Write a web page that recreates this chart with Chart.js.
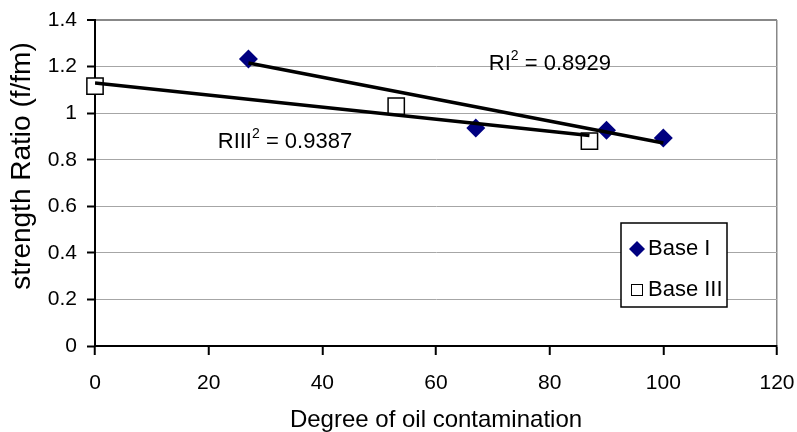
<!DOCTYPE html>
<html>
<head>
<meta charset="utf-8">
<script src="https://cdn.jsdelivr.net/npm/chart.js@4.4.1/dist/chart.umd.min.js"></script>
<style>
  html, body { margin: 0; padding: 0; background: #fff; }
  #wrap { width: 797px; height: 432px; }
</style>
</head>
<body>
<div id="wrap"><canvas id="chart" width="797" height="432"></canvas></div>
<script>
// Data
const baseIx = [27, 67, 90, 100];
const baseIy = [1.232, 0.936, 0.927, 0.893];
const baseIIIx = [0, 53, 87];
const baseIIIy = [1.116, 1.03, 0.88];

// Trend line end points (as drawn in the picture)
const trendIx = [27, 100];
const trendIy = [1.215, 0.872];
const trendIIIx = [0, 87];
const trendIIIy = [1.129, 0.904];

const xTicks = [0, 20, 40, 60, 80, 100, 120];
const yTickLabels = ['0', '0.2', '0.4', '0.6', '0.8', '1', '1.2', '1.4'];

const FONT = "'Liberation Sans', Arial, sans-serif";
const NAVY = '#000080';

function pts(xs, ys) {
    return xs.map((x, i) => ({ x: x, y: ys[i] }));
}

// Draws the y title, the R² labels and the boxed legend inside the plot
const extras = {
    id: 'extras',
    afterDraw(chart) {
        const ctx = chart.ctx;
        const xs = chart.scales.x, ys = chart.scales.y;
        const area = chart.chartArea;

        // y axis title (sits a bit above the plot centre in the original)
        ctx.save();
        ctx.translate(22, 166);
        ctx.rotate(-Math.PI / 2);
        ctx.fillStyle = '#000';
        ctx.font = '28px ' + FONT;
        ctx.textAlign = 'center';
        ctx.textBaseline = 'middle';
        ctx.fillText('strength Ratio (f/fm)', 0, 0);
        ctx.restore();

        function rsq(prefix, value, x, y) {
            ctx.save();
            ctx.fillStyle = '#000';
            ctx.textBaseline = 'middle';
            ctx.textAlign = 'left';
            ctx.font = '22px ' + FONT;
            ctx.fillText(prefix, x, y);
            let w = ctx.measureText(prefix).width;
            ctx.font = '14px ' + FONT;
            ctx.fillText('2', x + w, y - 8);
            w += ctx.measureText('2').width;
            ctx.font = '22px ' + FONT;
            ctx.fillText(' = ' + value, x + w, y);
            ctx.restore();
        }
        rsq('RI', '0.8929', xs.getPixelForValue(69.3), ys.getPixelForValue(1.21));
        rsq('RIII', '0.9387', xs.getPixelForValue(21.6), ys.getPixelForValue(0.876));

        // legend box
        const bx = area.right - 156, by = 223, bw = 106, bh = 84;
        ctx.save();
        ctx.fillStyle = '#fff';
        ctx.fillRect(bx, by, bw, bh);
        ctx.strokeStyle = '#000';
        ctx.lineWidth = 1.5;
        ctx.strokeRect(bx, by, bw, bh);

        // diamond
        const dx = bx + 16, dy1 = by + 26, dy2 = by + 67;
        ctx.fillStyle = NAVY;
        ctx.beginPath();
        ctx.moveTo(dx - 8, dy1);
        ctx.lineTo(dx, dy1 - 8);
        ctx.lineTo(dx + 8, dy1);
        ctx.lineTo(dx, dy1 + 8);
        ctx.closePath();
        ctx.fill();
        // square
        ctx.strokeStyle = '#000';
        ctx.lineWidth = 1;
        ctx.strokeRect(dx - 5.5, dy2 - 5.5, 11, 11);

        ctx.fillStyle = '#000';
        ctx.font = '22px ' + FONT;
        ctx.textBaseline = 'middle';
        ctx.textAlign = 'left';
        ctx.fillText('Base I', bx + 27, dy1);
        ctx.fillText('Base III', bx + 27, dy2);
        ctx.restore();
    }
};

// keep the plot box where the original has it
function noPad(scale) {
    scale.paddingLeft = 0;
    scale.paddingRight = 0;
    scale.paddingTop = 0;
    scale.paddingBottom = 0;
}

const ctx = document.getElementById('chart').getContext('2d');
new Chart(ctx, {
    type: 'scatter',
    data: {
        datasets: [
            {
                label: 'RI trend',
                data: pts(trendIx, trendIy),
                showLine: true,
                borderColor: '#000',
                borderWidth: 3.5,
                pointRadius: 0,
                order: 0
            },
            {
                label: 'RIII trend',
                data: pts(trendIIIx, trendIIIy),
                showLine: true,
                borderColor: '#000',
                borderWidth: 3.5,
                pointRadius: 0,
                order: 0
            },
            {
                label: 'Base I',
                data: pts(baseIx, baseIy),
                pointStyle: 'rectRot',
                pointRadius: 9.5,
                backgroundColor: NAVY,
                borderColor: NAVY,
                borderWidth: 0,
                order: 1
            },
            {
                label: 'Base III',
                data: pts(baseIIIx, baseIIIy),
                pointStyle: 'rect',
                pointRadius: 11.5,
                backgroundColor: '#fff',
                borderColor: '#000',
                borderWidth: 1.5,
                clip: false,
                order: 1
            }
        ]
    },
    options: {
        responsive: false,
        animation: false,
        layout: { padding: { left: 0, top: 20, right: 20, bottom: 0 } },
        plugins: {
            legend: { display: false },
            tooltip: { enabled: false }
        },
        scales: {
            x: {
                type: 'linear',
                min: 0,
                max: 120,
                afterBuildTicks: (scale) => { scale.ticks = xTicks.map(v => ({ value: v })); },
                afterFit: (scale) => { scale.height = 86; noPad(scale); },
                grid: {
                    color: (c) => (c.tick && c.tick.value === 120) ? '#888' : 'rgba(0,0,0,0)',
                    lineWidth: 1.5,
                    drawTicks: true,
                    tickLength: 9,
                    tickColor: '#000',
                    tickWidth: 2
                },
                border: { display: true, color: '#000', width: 2 },
                ticks: {
                    color: '#000',
                    font: { family: FONT, size: 21 },
                    padding: 16,
                    maxRotation: 0
                },
                title: {
                    display: true,
                    text: 'Degree of oil contamination',
                    color: '#000',
                    font: { family: FONT, size: 24, lineHeight: 1 },
                    padding: { top: 0, bottom: 0 }
                }
            },
            y: {
                min: 0,
                max: 1.4,
                afterFit: (scale) => { scale.width = 95; noPad(scale); },
                grid: {
                    color: (c) => (c.tick && c.tick.value > 1.39) ? '#888' : '#a6a6a6',
                    lineWidth: (c) => (c.tick && c.tick.value > 1.39) ? 2 : 1,
                    drawTicks: true,
                    tickLength: 8,
                    tickColor: '#000',
                    tickWidth: 2
                },
                border: { display: true, color: '#000', width: 2 },
                ticks: {
                    stepSize: 0.2,
                    color: '#000',
                    font: { family: FONT, size: 21 },
                    padding: 10,
                    callback: (v, i) => yTickLabels[i]
                },
                title: { display: false }
            }
        }
    },
    plugins: [extras]
});
</script>
</body>
</html>
